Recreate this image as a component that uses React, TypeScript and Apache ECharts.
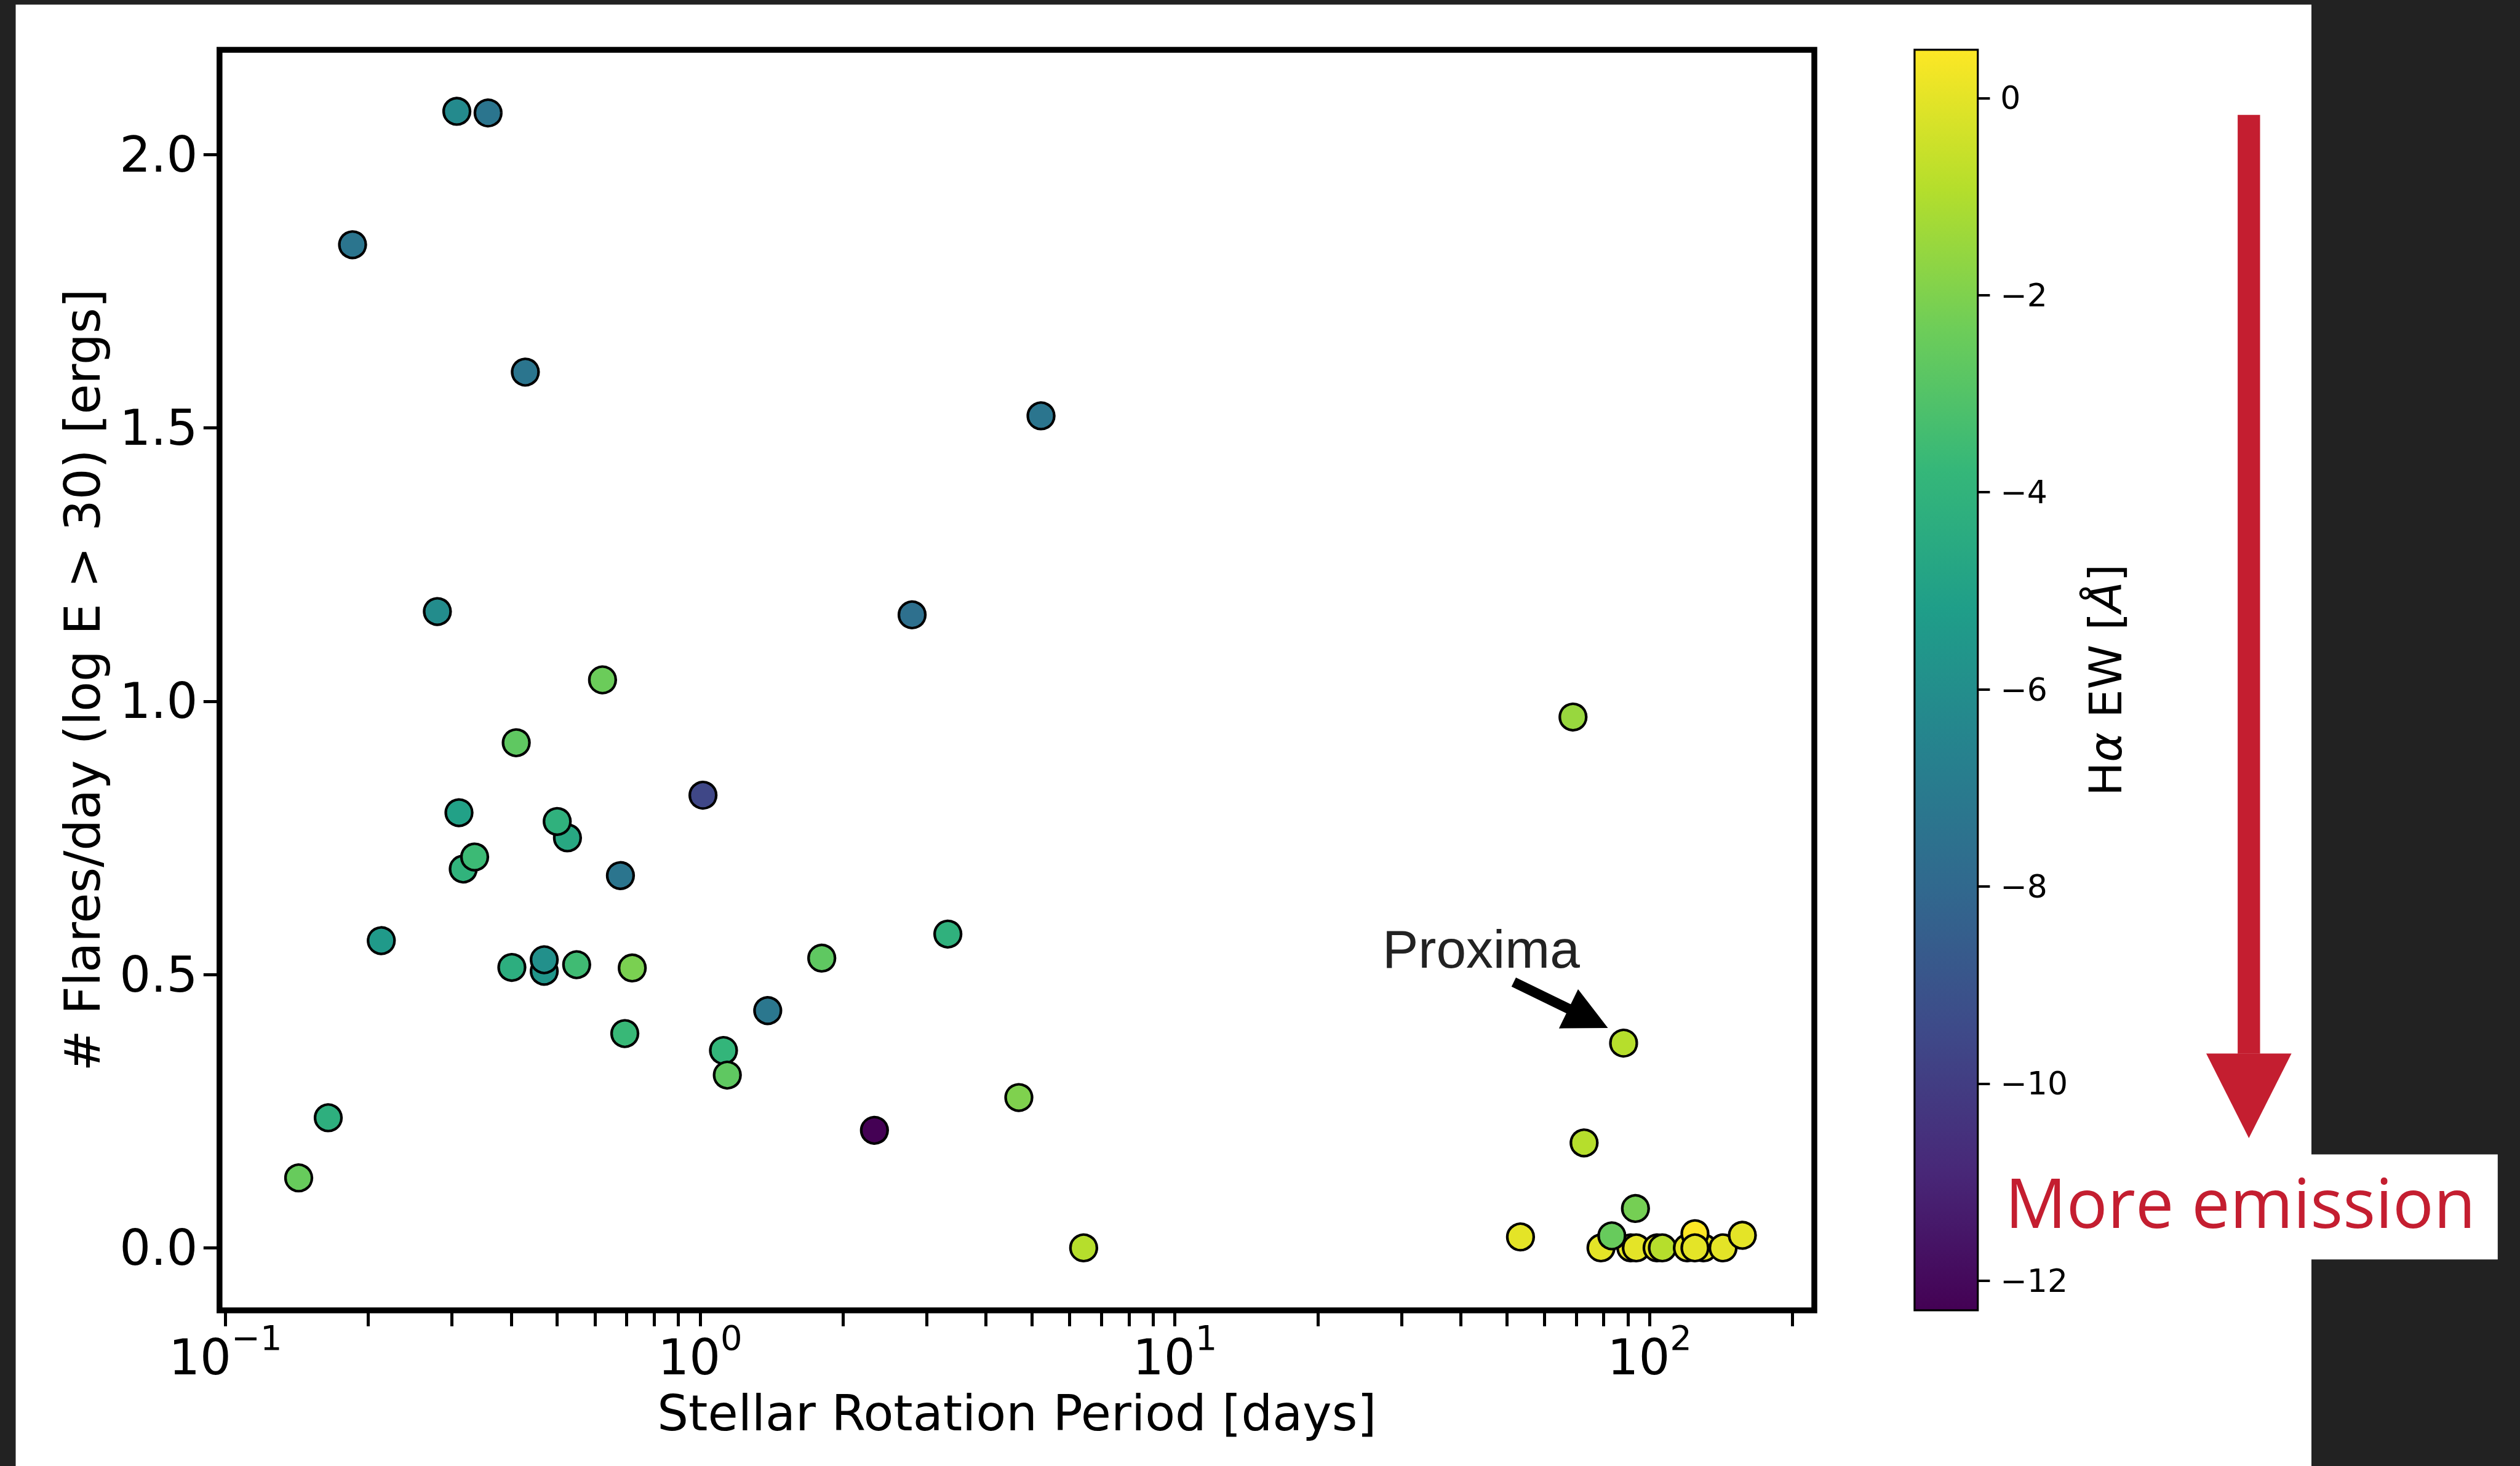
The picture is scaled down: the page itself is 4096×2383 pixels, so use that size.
import React, { useEffect, useRef } from "react";
import * as echarts from "echarts";

const W = 4096;
const H = 2383;
const FONT = "DejaVu Sans";

// Stellar rotation period [days]
const period = [
  0.3073, 0.3576, 0.1853, 0.4284, 5.225, 0.2796, 2.796, 0.6229, 0.4099, 1.014,
  0.3105, 0.5255, 0.5, 0.317, 0.335, 0.6794, 0.213, 0.4013, 0.4695, 0.4695,
  0.5495, 0.7195, 1.804, 1.388, 0.694, 1.12, 1.141, 0.1647, 0.1427, 3.325,
  4.692, 2.329, 6.425, 68.97, 88.15, 72.78, 93.37, 53.46, 79.0, 91.3,
  93.76, 83.26, 103.7, 106.4, 120.1, 129.9, 124.6, 124.6, 142.8, 156.8,
];

// Flares per day above log E = 30
const flareRate = [
  2.079, 2.076, 1.835, 1.602, 1.522, 1.164, 1.158, 1.039, 0.924, 0.828,
  0.796, 0.75, 0.78, 0.693, 0.715, 0.681, 0.562, 0.513, 0.506, 0.527,
  0.518, 0.512, 0.53, 0.434, 0.392, 0.361, 0.316, 0.238, 0.128, 0.574,
  0.275, 0.215, 0.0, 0.971, 0.3745, 0.192, 0.072, 0.02, 0.0, 0.0,
  0.0, 0.022, 0.0, 0.0, 0.0, 0.0, 0.026, 0.0, 0.0, 0.023,
];

// H-alpha equivalent width [Angstrom]
const haEW = [
  -6.2, -7.3, -7.3, -7.3, -7.3, -6.1, -7.6, -2.4, -2.7, -9.6,
  -5.0, -4.6, -4.1, -4.0, -3.6, -7.3, -5.4, -4.3, -5.6, -5.9,
  -3.5, -2.1, -2.7, -7.2, -3.7, -3.9, -2.7, -4.2, -2.5, -4.1,
  -2.0, -12.3, -0.9, -1.5, -0.9, -0.9, -2.2, 0.0, 0.0, 0.0,
  0.0, -2.5, 0.0, -0.9, 0.0, 0.0, 0.49, 0.0, 0.0, 0.0,
];

const xMajorTicks = [0.1, 1, 10, 100];
const xAllTicks = [
  0.1, 0.2, 0.3, 0.4, 0.5, 0.6, 0.7, 0.8, 0.9,
  1, 2, 3, 4, 5, 6, 7, 8, 9,
  10, 20, 30, 40, 50, 60, 70, 80, 90,
  100, 200,
];
const yTicks = [0, 0.5, 1, 1.5, 2];
const cbTicks = [-12, -10, -8, -6, -4, -2, 0];

const cbMin = -12.3;
const cbMax = 0.49;

const viridis = [
  "#440154", "#482878", "#3e4a89", "#31688e", "#26828e",
  "#1f9e89", "#35b779", "#6dcd59", "#b4de2c", "#fde725",
];

// Proxima Centauri annotation (data coordinates)
const proximaLabel = { text: "Proxima", at: [44.16, 0.5457] };
const proximaArrow = { from: [51.73, 0.4862], to: [74.25, 0.4197] };

const RED = "#c41e30";
const DARK = "#222222";

const minus = (v: number) => (v < 0 ? "\u2212" + Math.abs(v) : String(v));

export default function App() {
  const ref = useRef<HTMLDivElement>(null);

  useEffect(() => {
    const chart = echarts.init(ref.current!, undefined, { renderer: "svg" });

    const points = period.map((p, i) => [p, flareRate[i], haEW[i]]);
    const gradStops = viridis
      .slice()
      .reverse()
      .map((c, i, a) => ({ offset: i / (a.length - 1), color: c }));

    const option: any = {
      animation: false,
      backgroundColor: "#ffffff",
      textStyle: { fontFamily: FONT, color: "#000" },
      grid: [
        {
          left: 356.8,
          top: 80.9,
          width: 2592.2,
          height: 2049,
          show: true,
          borderColor: "#000",
          borderWidth: 9.5,
          backgroundColor: "transparent",
          containLabel: false,
          outerBoundsMode: "none",
        },
        {
          left: 3111.9,
          top: 80.9,
          width: 102.8,
          height: 2049,
          show: false,
          containLabel: false,
          outerBoundsMode: "none",
        },
      ],
      visualMap: {
        type: "continuous",
        show: false,
        seriesIndex: 0,
        dimension: 2,
        min: cbMin,
        max: cbMax,
        inRange: { color: viridis },
      },
      xAxis: [
        {
          type: "log",
          logBase: 10,
          gridIndex: 0,
          min: 0.09719,
          max: 222.3,
          name: "Stellar Rotation Period [days]",
          nameLocation: "middle",
          nameGap: 127.2,
          nameTextStyle: { fontFamily: FONT, fontSize: 80, lineHeight: 80, color: "#000" },
          axisLine: { show: false, onZero: false },
          axisTick: {
            show: true,
            inside: false,
            length: 26,
            lineStyle: { color: "#000", width: 5 },
            customValues: xAllTicks,
          },
          minorTick: { show: false },
          splitLine: { show: false },
          axisLabel: {
            customValues: xMajorTicks,
            margin: 16.8,
            color: "#000",
            formatter: (v: number) => {
              const e = Math.round(Math.log10(v));
              return "{b|10}{s|" + minus(e) + "}";
            },
            rich: {
              b: { fontFamily: FONT, fontSize: 80, lineHeight: 100, verticalAlign: "bottom", color: "#000" },
              s: { fontFamily: FONT, fontSize: 56, lineHeight: 56, verticalAlign: "top", color: "#000" },
            },
          },
        },
        { type: "value", gridIndex: 1, min: 0, max: 1, show: false },
      ],
      yAxis: [
        {
          type: "value",
          gridIndex: 0,
          min: -0.1142,
          max: 2.1916,
          name: "# Flares/day (log E > 30) [ergs]",
          nameLocation: "middle",
          nameRotate: 90,
          nameGap: 182.3,
          nameTextStyle: { fontFamily: FONT, fontSize: 80, lineHeight: 80, color: "#000" },
          axisLine: { show: false, onZero: false },
          axisTick: {
            show: true,
            inside: false,
            length: 26,
            lineStyle: { color: "#000", width: 5 },
            customValues: yTicks,
          },
          splitLine: { show: false },
          axisLabel: {
            customValues: yTicks,
            margin: 35.4,
            fontFamily: FONT,
            fontSize: 80,
            color: "#000",
            formatter: (v: number) => v.toFixed(1),
          },
        },
        {
          type: "value",
          gridIndex: 1,
          position: "right",
          min: cbMin,
          max: cbMax,
          name: "H{i|\u03b1} EW [{i|\u00c5}]",
          nameLocation: "middle",
          nameRotate: 90,
          nameGap: 171.5,
          nameTextStyle: {
            fontFamily: FONT,
            fontSize: 73.5,
            lineHeight: 73.5,
            color: "#000",
            rich: { i: { fontFamily: FONT, fontSize: 73.5, fontStyle: "italic", color: "#000" } },
          },
          axisLine: { show: false, onZero: false },
          axisTick: {
            show: true,
            inside: false,
            length: 19.7,
            lineStyle: { color: "#000", width: 4 },
            customValues: cbTicks,
          },
          splitLine: { show: false },
          axisLabel: {
            customValues: cbTicks,
            margin: 36.6,
            fontFamily: FONT,
            fontSize: 52,
            color: "#000",
            formatter: (v: number) => minus(v),
          },
        },
      ],
      series: [
        {
          type: "scatter",
          xAxisIndex: 0,
          yAxisIndex: 0,
          data: points,
          symbol: "circle",
          symbolSize: 43,
          silent: true,
          itemStyle: { borderColor: "#000", borderWidth: 4.3, opacity: 1 },
          markLine: {
            silent: true,
            symbol: ["none", "triangle"],
            symbolSize: [70.8, 71.3],
            label: { show: false },
            lineStyle: { color: "#000", width: 16.4, type: "solid", opacity: 1 },
            itemStyle: { color: "#000" },
            data: [[{ coord: proximaArrow.from }, { coord: proximaArrow.to }]],
          },
          markPoint: {
            silent: true,
            symbol: "circle",
            symbolSize: 0,
            itemStyle: { color: "transparent" },
            label: {
              show: true,
              position: "inside",
              formatter: proximaLabel.text,
              fontFamily: "Liberation Sans",
              fontSize: 87.5,
              color: "#222222",
            },
            data: [{ coord: proximaLabel.at }],
          },
        },
        {
          type: "custom",
          xAxisIndex: 1,
          yAxisIndex: 1,
          silent: true,
          data: [[0, cbMin, 1, cbMax]],
          renderItem: (_params: any, api: any) => {
            const p0 = api.coord([api.value(0), api.value(3)]);
            const p1 = api.coord([api.value(2), api.value(1)]);
            return {
              type: "rect",
              shape: { x: p0[0], y: p0[1], width: p1[0] - p0[0], height: p1[1] - p0[1] },
              style: {
                fill: new echarts.graphic.LinearGradient(0, 0, 0, 1, gradStops),
                stroke: "#000",
                lineWidth: 3.2,
              },
            };
          },
        },
      ],
      graphic: [
        // surrounding dark page
        { type: "rect", silent: true, shape: { x: 0, y: 0, width: 25.5, height: H }, style: { fill: DARK } },
        { type: "rect", silent: true, shape: { x: 0, y: 0, width: W, height: 7.6 }, style: { fill: DARK } },
        { type: "rect", silent: true, shape: { x: 3757, y: 0, width: W - 3757, height: 1876.5 }, style: { fill: DARK } },
        { type: "rect", silent: true, shape: { x: 3757, y: 2047.3, width: W - 3757, height: H - 2047.3 }, style: { fill: DARK } },
        { type: "rect", silent: true, shape: { x: 4059.8, y: 1870, width: W - 4059.8, height: 190 }, style: { fill: DARK } },
        // red arrow
        { type: "rect", silent: true, shape: { x: 3637.1, y: 186.8, width: 36.4, height: 1526 }, style: { fill: RED } },
        {
          type: "polygon",
          silent: true,
          shape: { points: [[3586, 1712.4], [3724.6, 1712.4], [3655.3, 1850]] },
          style: { fill: RED },
        },
        {
          type: "text",
          silent: true,
          x: 3259,
          y: 1953,
          style: {
            text: "More emission",
            font: '111px "Open Sans"',
            fill: RED,
            textAlign: "left",
            textVerticalAlign: "middle",
            align: "left",
            verticalAlign: "middle",
          },
        },
      ],
    };

    chart.setOption(option);
    return () => chart.dispose();
  }, []);

  return (
    <div
      ref={ref}
      style={{ position: "fixed", left: 0, top: 0, width: W, height: H }}
    />
  );
}
